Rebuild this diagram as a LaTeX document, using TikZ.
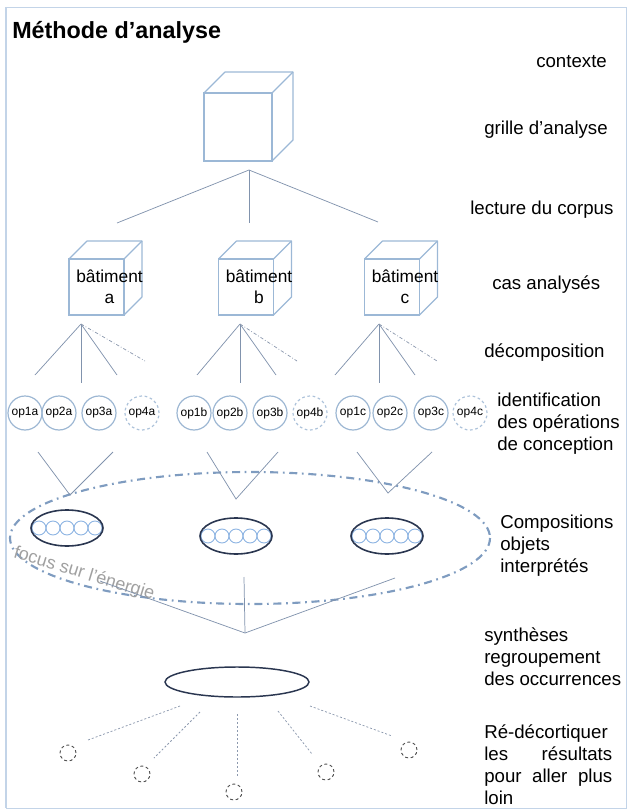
\documentclass[tikz,border=0pt]{standalone}
\usepackage{fontspec}
\setmainfont{Liberation Sans}
\usetikzlibrary{shapes.geometric,calc}
\definecolor{cubeblue}{HTML}{9CB8D6}
\definecolor{treec}{HTML}{8193AD}
\definecolor{dashc}{HTML}{8C99AE}
\definecolor{opblue}{HTML}{9DB7D3}
\definecolor{navy}{HTML}{2A3650}
\definecolor{minicol}{HTML}{8DB4E2}
\definecolor{focusc}{HTML}{7F9CC0}
\definecolor{grayt}{HTML}{A0A0A0}
\definecolor{darkg}{HTML}{505050}
\definecolor{framec}{HTML}{C3D4E8}
\begin{document}
\begin{tikzpicture}[x=0.75pt,y=-0.75pt,
  cubeline/.style={draw=cubeblue, line width=0.9pt, line join=round},
  cubeface/.style={rectangle, draw=cubeblue, line width=0.9pt, inner sep=0pt, outer sep=0pt},
  treeline/.style={draw=treec, line width=0.55pt},
  treedash/.style={draw=dashc, line width=0.55pt, dash pattern=on 2.5pt off 1.5pt on 0.6pt off 1.5pt},
  opnode/.style={circle, draw=opblue, line width=0.9pt, minimum size=25.5pt, inner sep=0pt, font=\fontsize{9}{10}\selectfont},
  opdash/.style={opnode, dash pattern=on 2pt off 2pt, draw=opblue!85},
  compo/.style={ellipse, draw=navy, line width=1.2pt, minimum width=54pt, minimum height=27pt, inner sep=0pt},
  minic/.style={circle, draw=minicol, line width=0.7pt, minimum size=10.5pt, inner sep=0pt},
  synth/.style={ellipse, draw=navy, line width=1.1pt, minimum width=108pt, minimum height=22.5pt, inner sep=0pt},
  smallc/.style={circle, draw=darkg, dash pattern=on 2.2pt off 2pt, line width=0.7pt, minimum size=12pt, inner sep=0pt},
  botdash/.style={draw=dashc, line width=0.55pt, dash pattern=on 1.5pt off 1.5pt},
  focusline/.style={draw=focusc, line width=1.6pt, dash pattern=on 6pt off 3.5pt on 1.3pt off 3.5pt},
  side/.style={anchor=west, align=left, font=\fontsize{14}{16.5}\selectfont, inner sep=0pt},
  btext/.style={align=center, font=\fontsize{13}{15.75}\selectfont, inner sep=0pt},
]
\useasboundingbox (0,0) rectangle (627,809);
% frame
\draw[framec, line width=0.7pt] (6,7) rectangle (626,808);
\draw[framec, line width=2.2pt] (6,7) -- (6,808);

% title
\node[anchor=west, inner sep=0pt, font=\bfseries\fontsize{17.5}{20}\selectfont] (title) at (12,32) {Méthode d’analyse};

% side texts
\node[side] (t1) at (536,62) {contexte};
\node[side] (t2) at (484,130) {grille d’analyse};
\node[side] (t3) at (470,210) {lecture du corpus};
\node[side] (t4) at (492,285) {cas analysés};
\node[side] (t5) at (484,353) {décomposition};
\node[side] (t6) at (497,424) {identification\\des opérations\\de conception};
\node[side] (t7) at (500,546) {Compositions\\objets\\interprétés};
\node[side] (t8) at (484,657) {synthèses\\regroupement\\des occurrences};
\node[side, text width=96pt] (t9) at (484,765) {Ré-décortiquer\\les\hfill résultats\\pour\hfill aller\hfill plus\\loin};

% main cube
\node[cubeface, minimum width=51pt, minimum height=51pt] (c0) at (238,127) {};
\draw[cubeline] (c0.north west) -- ++(21,-21) -- ++(68,0) -- ++(0,68) -- (c0.south east);
\draw[cubeline] (c0.north east) -- ++(21,-21);

% tree from main cube
\coordinate (t0) at (249,170);
\coordinate (e1) at (117,223);
\coordinate (e2) at (249,223);
\coordinate (e3) at (378,222);
\draw[treeline] (t0) -- (e1);
\draw[treeline] (t0) -- (e2);
\draw[treeline] (t0) -- (e3);

% building cubes
\foreach \k/\x in {a/96.5,b/246,c/392}{
  \node[cubeface, minimum width=41.25pt, minimum height=42pt] (b\k) at (\x,287) {};
  \draw[cubeline] (b\k.north west) -- ++(18,-18) -- ++(55,0) -- ++(0,56) -- (b\k.south east);
  \draw[cubeline] (b\k.north east) -- ++(18,-18);
  \node[btext] (bt\k) at ($(b\k.center)+(13,0)$) {bâtiment\\\k};
}

% decomposition
\foreach \k/\ax/\l/\r/\d in {a/81/35/117/145, b/240/197/276/297, c/379/335/415/437}{
  \coordinate (d\k) at (\ax,324);
  \coordinate (d\k1) at (\l,375);
  \coordinate (d\k2) at (\ax,383);
  \coordinate (d\k3) at (\r,375);
  \coordinate (d\k4) at (\d,361);
  \draw[treeline] (d\k) -- (d\k1);
  \draw[treeline] (d\k) -- (d\k2);
  \draw[treeline] (d\k) -- (d\k3);
  \draw[treedash] (d\k) -- (d\k4);
}

% operations
\foreach \n/\x in {op1a/25,op2a/59,op3a/99,op1b/194,op2b/230,op3b/270,op1c/353,op2c/390,op3c/431}{
  \node[opnode] (\n) at (\x,413) {\n};
}
\foreach \n/\x in {op4a/142,op4b/310,op4c/470}{
  \node[opdash] (\n) at (\x,413) {\n};
}

% focus ellipse
\coordinate (focus) at (250,538);
\draw[focusline] (focus) ellipse [x radius=240, y radius=66];
\node[rotate=-17, text=grayt, inner sep=0pt, font=\fontsize{13.5}{14}\selectfont] (focustext) at (84,574) {focus sur l’énergie};

% V lines to compositions
\foreach \k/\l/\ax/\ay/\r in {a/38/70/495/113, b/207/236/499/278, c/357/388/493/432}{
  \coordinate (v\k1) at (\l,452);
  \coordinate (v\k) at (\ax,\ay);
  \coordinate (v\k2) at (\r,452);
  \draw[treeline] (v\k1) -- (v\k) -- (v\k2);
}

% compositions
\foreach \k/\x/\y in {a/67/528, b/236/536, c/387/536}{
  \foreach \i/\dx in {1/-28,2/-14,3/0,4/14,5/28}{
    \node[minic] (m\k\i) at (\x+\dx,\y) {};
  }
  \node[compo] (comp\k) at (\x,\y) {};
}

% lines to synthesis
\coordinate (s0) at (245,633);
\coordinate (s1) at (100,581);
\coordinate (s2) at (244,577);
\coordinate (s3) at (395,578);
\draw[treeline] (s1) -- (s0);
\draw[treeline] (s2) -- (s0);
\draw[treeline] (s3) -- (s0);

\node[synth] (syn) at (237,682) {};

% bottom
\foreach \i/\sx/\sy/\ex/\ey/\cx/\cy in {1/180/706/88/740/68/753, 2/200/712/154/758/142/774, 3/237/714/237/777/234/792, 4/278/711/312/754/326/772, 5/310/706/392/736/409/750}{
  \coordinate (ls\i) at (\sx,\sy);
  \coordinate (le\i) at (\ex,\ey);
  \draw[botdash] (ls\i) -- (le\i);
  \node[smallc] (sc\i) at (\cx,\cy) {};
}
\end{tikzpicture}
\end{document}
